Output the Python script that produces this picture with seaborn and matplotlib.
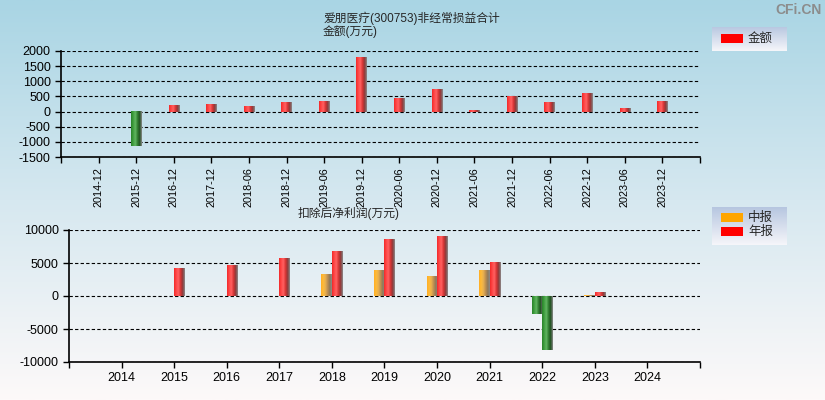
import numpy as np
import pandas as pd
import matplotlib
matplotlib.use("Agg")
import matplotlib.pyplot as plt
import seaborn as sns
from matplotlib.colors import LinearSegmentedColormap
from matplotlib.patches import Rectangle

# ---------------- data ----------------
periods = ["2014-12", "2015-12", "2016-12", "2017-12", "2018-06", "2018-12",
           "2019-06", "2019-12", "2020-06", "2020-12", "2021-06", "2021-12",
           "2022-06", "2022-12", "2023-06", "2023-12"]
amounts = [np.nan, -1130, 210, 240, 175, 305, 340, 1790, 440, 735, 40, 505,
           305, 605, 110, 340]

years = ["2014", "2015", "2016", "2017", "2018", "2019", "2020", "2021",
         "2022", "2023", "2024"]
interim = [np.nan, np.nan, np.nan, np.nan, 3230, 3830, 2930, 3830, -2680, 150, np.nan]
annual = [np.nan, 4140, 4590, 5650, 6710, 8530, 8990, 5050, -8130, 500, np.nan]

title1 = "爱朋医疗(300753)非经常损益合计"
title2 = "金额(万元)"
title3 = "扣除后净利润(万元)"

# ---------------- style ----------------
sns.set_style("ticks")
plt.rcParams["font.family"] = ["Liberation Sans", "Noto Sans CJK SC"]
plt.rcParams["axes.unicode_minus"] = False

cm_red = LinearSegmentedColormap.from_list("r", ["#f22a2a", "#ff4646", "#ff6262", "#d83434", "#8c3a3a", "#8a8a8a"])
cm_green = LinearSegmentedColormap.from_list("g", ["#2a822a", "#3f9f3f", "#62b562", "#2f7f2f", "#224f22", "#8a8a8a"])
cm_orange = LinearSegmentedColormap.from_list("o", ["#ffae22", "#ffbb3a", "#e8b050", "#c09050", "#907858", "#8a8a8a"])

fig = plt.figure(figsize=(8.25, 4.0), dpi=100)

# background gradient
bg = fig.add_axes([0, 0, 1, 1], zorder=-10)
grad_v = np.linspace(0, 1, 256).reshape(-1, 1)
bg_cmap = LinearSegmentedColormap.from_list("bg", ["#a9d5e4", "#d6e8f0", "#fdf9f9"])
bg.imshow(grad_v, cmap=bg_cmap, aspect="auto", extent=[0, 1, 0, 1], origin="upper")
bg.set_xlim(0, 1); bg.set_ylim(0, 1)
bg.axis("off")


def shade(ax, patch, cmap):
    h = patch.get_height()
    if not np.isfinite(h) or h == 0:
        return
    x0 = patch.get_x(); w = patch.get_width(); y0 = patch.get_y()
    g = np.linspace(0, 1, 64).reshape(1, -1)
    ax.imshow(g, cmap=cmap, aspect="auto", interpolation="bilinear",
              extent=[x0, x0 + w, min(y0, y0 + h), max(y0, y0 + h)], zorder=3)
    patch.set_facecolor("none")
    patch.set_edgecolor("none")


def style_axes(ax):
    ax.set_facecolor("none")
    ax.spines["top"].set_visible(False)
    ax.spines["right"].set_visible(False)
    for s in ("left", "bottom"):
        ax.spines[s].set_color("black")
        ax.spines[s].set_linewidth(1.2)
    ax.set_axisbelow(True)
    ax.yaxis.grid(True, linestyle=(0, (3, 2)), color="black", linewidth=0.8)
    ax.xaxis.grid(False)
    ax.tick_params(axis="both", which="both", colors="black", labelsize=9,
                   length=4, width=1, direction="out")
    ax.set_xlabel("")
    ax.set_ylabel("")


# ---------------- top chart ----------------
ax1 = fig.add_axes([61 / 825, 1 - 157 / 400, (700 - 61) / 825, (157 - 51) / 400])
df1 = pd.DataFrame({"period": periods, "amount": amounts})
sns.barplot(data=df1, x="period", y="amount", order=periods, color="red",
            width=0.28, errorbar=None, ax=ax1)
for p in list(ax1.patches):
    h = p.get_height()
    if np.isfinite(h):
        shade(ax1, p, cm_red if h > 0 else cm_green)
style_axes(ax1)
ax1.set_xlim(-1, 16)
ax1.set_ylim(-1500, 2000)
ax1.set_yticks(range(-1500, 2001, 500))
ax1.set_xticks(range(len(periods)))
ax1.set_xticklabels(periods, rotation=90, fontsize=7.8)
ax1.set_xticks([-1, 16], minor=True)

# ---------------- bottom chart ----------------
ax2 = fig.add_axes([69 / 825, 1 - 362 / 400, (700 - 69) / 825, (362 - 230) / 400])
df2 = pd.DataFrame({
    "year": years * 2,
    "type": ["中报"] * len(years) + ["年报"] * len(years),
    "value": interim + annual,
})
sns.barplot(data=df2, x="year", y="value", hue="type", order=years,
            hue_order=["中报", "年报"], palette={"中报": "orange", "年报": "red"},
            width=0.4, errorbar=None, legend=False, ax=ax2)
for p in list(ax2.patches):
    h = p.get_height()
    if not np.isfinite(h) or h == 0:
        continue
    c = p.get_x() + p.get_width() / 2
    left = (c - round(c)) < 0
    if h < 0:
        cm = cm_green
    else:
        cm = cm_orange if left else cm_red
    shade(ax2, p, cm)
style_axes(ax2)
ax2.set_xlim(-1, 11)
ax2.set_ylim(-10000, 10000)
ax2.set_yticks(range(-10000, 10001, 5000))
ax2.set_xticks(range(len(years)))
ax2.set_xticklabels(years)
ax2.set_xticks([-1, 11], minor=True)

# ---------------- titles ----------------
fig.text(323 / 825, 1 - 18 / 400, title1, fontsize=8.5, ha="left", va="center")
fig.text(323 / 825, 1 - 32 / 400, title2, fontsize=8.5, ha="left", va="center")
fig.text(298 / 825, 1 - 213 / 400, title3, fontsize=8.5, ha="left", va="center")
fig.text(822 / 825, 1 - 10 / 400, "CFi.CN", fontsize=10, fontweight="bold",
         color="#8c8c8c", ha="right", va="center")

# ---------------- legends ----------------
leg_cmap = LinearSegmentedColormap.from_list("lg", ["#b6c6e0", "#f6f6fa"])


def legend_box(x0, y0, x1, y1, items):
    lax = fig.add_axes([x0 / 825, 1 - y1 / 400, (x1 - x0) / 825, (y1 - y0) / 400])
    lax.imshow(grad_v, cmap=leg_cmap, aspect="auto", extent=[x0, x1, y1, y0], origin="upper")
    lax.set_xlim(x0, x1)
    lax.set_ylim(y1, y0)
    lax.axis("off")
    for (py, color, label) in items:
        lax.add_patch(Rectangle((721, py - 4.5), 22, 9, facecolor=color, edgecolor="none"))
        lax.text(748, py, label, fontsize=9, va="center", ha="left")


legend_box(712, 27, 787, 51, [(38.5, "#ff0000", "金额")])
legend_box(712, 207, 787, 245, [(217.5, "#ffa500", "中报"), (231.5, "#ff0000", "年报")])

fig.savefig("out.png", dpi=100)
